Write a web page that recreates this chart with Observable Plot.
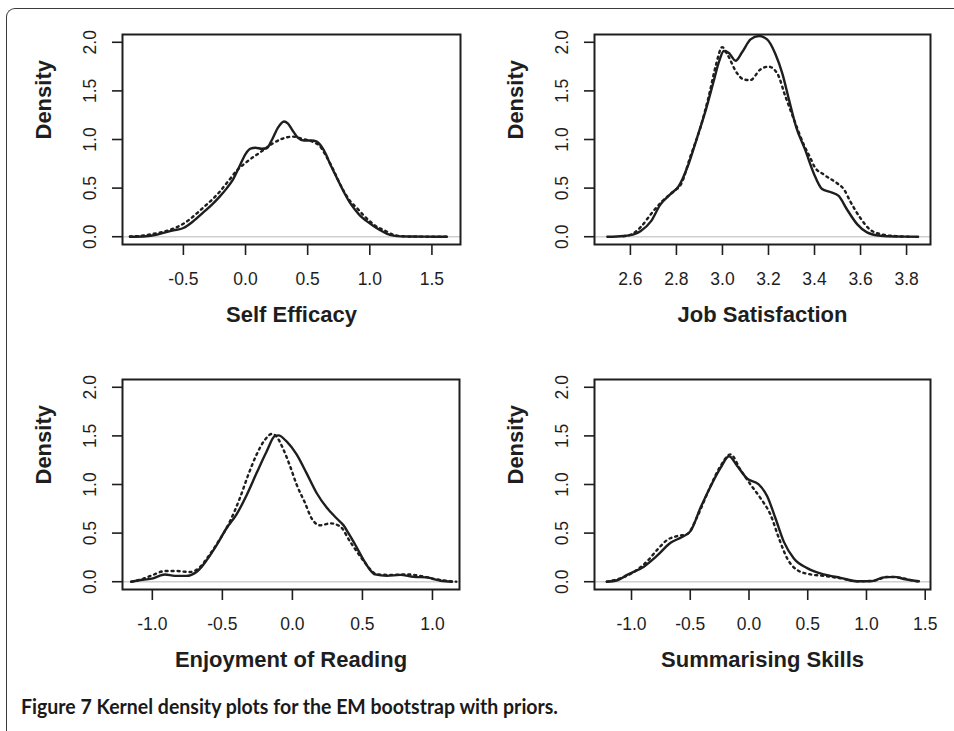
<!DOCTYPE html>
<html>
<head>
<meta charset="utf-8">
<script src="https://cdn.jsdelivr.net/npm/d3@7"></script>
<script src="https://cdn.jsdelivr.net/npm/@observablehq/plot@0.6"></script>
<style>
  html, body { margin: 0; padding: 0; background: #fff; }
  #fig { position: relative; width: 954px; height: 731px; overflow: hidden; background: #fff; }
  #border { position: absolute; left: 6px; top: 8px; width: 980px; height: 760px;
            border-top: 1.5px solid #3a3a3a; border-left: 1.5px solid #3a3a3a; border-top-left-radius: 9px; }
  .panel { position: absolute; }
  #caption { position: absolute; left: 21px; top: 694px; white-space: nowrap;
             font-family: "Liberation Sans Narrow", "Lato", "Open Sans", sans-serif; font-weight: bold;
             font-size: 20px; color: #1a1a1a; transform-origin: 0 0; }
</style>
</head>
<body>
<div id="fig">
  <div id="border"></div>
  <div id="p1" class="panel" style="left:0px;top:0px"></div>
  <div id="p2" class="panel" style="left:477px;top:0px"></div>
  <div id="p3" class="panel" style="left:0px;top:340px"></div>
  <div id="p4" class="panel" style="left:477px;top:340px"></div>
  <div id="caption">Figure 7 Kernel density plots for the EM bootstrap with priors.</div>
</div>
<script>
// ---- Data (x, density) ----
const yTicks = [0, 0.5, 1.0, 1.5, 2.0];
const yLabel = "Density";

const selfEfficacyTitle = "Self Efficacy";
const selfEfficacyTicks = [-0.5, 0, 0.5, 1.0, 1.5];
const selfEfficacySolid = [[-0.93,0],[-0.8,0.005],[-0.72,0.02],[-0.66,0.04],[-0.58,0.065],[-0.5,0.09],[-0.42,0.16],[-0.34,0.25],[-0.27,0.33],[-0.21,0.41],[-0.15,0.5],[-0.10,0.59],[-0.05,0.72],[0.0,0.85],[0.04,0.905],[0.08,0.915],[0.13,0.905],[0.17,0.91],[0.21,0.99],[0.26,1.12],[0.31,1.185],[0.34,1.165],[0.38,1.09],[0.42,1.02],[0.47,0.99],[0.53,0.99],[0.57,0.98],[0.61,0.93],[0.65,0.84],[0.68,0.75],[0.72,0.645],[0.76,0.54],[0.80,0.44],[0.84,0.35],[0.88,0.28],[0.92,0.22],[0.97,0.165],[1.03,0.11],[1.08,0.07],[1.14,0.03],[1.19,0.012],[1.25,0.004],[1.35,0.002],[1.45,0.001],[1.62,0]];
const selfEfficacyDotted = [[-0.93,0.003],[-0.82,0.012],[-0.74,0.03],[-0.61,0.07],[-0.48,0.15],[-0.41,0.22],[-0.34,0.30],[-0.27,0.38],[-0.21,0.46],[-0.14,0.57],[-0.07,0.68],[0.02,0.78],[0.12,0.87],[0.22,0.96],[0.30,1.01],[0.38,1.03],[0.45,1.01],[0.55,0.97],[0.60,0.93],[0.63,0.87],[0.67,0.78],[0.71,0.68],[0.75,0.57],[0.79,0.47],[0.84,0.37],[0.90,0.29],[0.95,0.22],[1.0,0.16],[1.06,0.10],[1.11,0.07],[1.19,0.02],[1.26,0.005],[1.33,0.001],[1.62,0]];

const jobSatisfactionTitle = "Job Satisfaction";
const jobSatisfactionTicks = [2.6, 2.8, 3.0, 3.2, 3.4, 3.6, 3.8];
const jobSatisfactionSolid = [[2.50,0],[2.57,0.008],[2.62,0.03],[2.645,0.06],[2.69,0.16],[2.73,0.33],[2.775,0.44],[2.81,0.52],[2.85,0.73],[2.89,1.02],[2.927,1.30],[2.963,1.61],[2.985,1.80],[3.006,1.91],[3.028,1.89],[3.057,1.81],[3.086,1.90],[3.122,2.03],[3.158,2.065],[3.194,2.03],[3.23,1.88],[3.26,1.68],[3.29,1.40],[3.32,1.13],[3.36,0.89],[3.397,0.65],[3.433,0.49],[3.469,0.46],[3.505,0.42],[3.54,0.285],[3.585,0.13],[3.628,0.045],[3.686,0.01],[3.75,0.002],[3.85,0]];
const jobSatisfactionDotted = [[2.57,0.005],[2.61,0.03],[2.645,0.10],[2.695,0.25],[2.74,0.37],[2.79,0.47],[2.82,0.54],[2.86,0.82],[2.905,1.13],[2.94,1.44],[2.97,1.75],[2.999,1.95],[3.02,1.88],[3.064,1.68],[3.09,1.62],[3.12,1.61],[3.165,1.72],[3.20,1.75],[3.238,1.68],[3.274,1.44],[3.31,1.21],[3.353,0.95],[3.38,0.82],[3.40,0.72],[3.44,0.64],[3.498,0.55],[3.527,0.49],[3.556,0.36],[3.60,0.19],[3.643,0.07],[3.70,0.02],[3.76,0.005],[3.82,0]];

const enjoymentTitle = "Enjoyment of Reading";
const enjoymentTicks = [-1.0, -0.5, 0, 0.5, 1.0];
const enjoymentSolid = [[-1.15,0],[-1.067,0.02],[-0.995,0.035],[-0.95,0.06],[-0.91,0.075],[-0.84,0.06],[-0.757,0.06],[-0.685,0.10],[-0.65,0.15],[-0.613,0.22],[-0.54,0.38],[-0.47,0.55],[-0.40,0.69],[-0.327,0.89],[-0.255,1.12],[-0.184,1.34],[-0.124,1.50],[-0.10,1.505],[-0.04,1.44],[0.03,1.31],[0.10,1.12],[0.174,0.91],[0.246,0.76],[0.317,0.65],[0.365,0.58],[0.40,0.50],[0.437,0.41],[0.51,0.22],[0.55,0.13],[0.59,0.075],[0.675,0.06],[0.77,0.07],[0.866,0.05],[0.96,0.045],[1.0,0.03],[1.057,0.01],[1.14,0]];
const enjoymentDotted = [[-1.15,0],[-1.067,0.03],[-0.995,0.07],[-0.91,0.11],[-0.83,0.11],[-0.733,0.10],[-0.66,0.15],[-0.60,0.26],[-0.53,0.41],[-0.446,0.62],[-0.375,0.86],[-0.315,1.10],[-0.255,1.31],[-0.196,1.46],[-0.148,1.52],[-0.112,1.49],[-0.064,1.36],[-0.017,1.19],[0.03,1.00],[0.09,0.81],[0.138,0.65],[0.198,0.58],[0.27,0.60],[0.34,0.57],[0.413,0.41],[0.51,0.21],[0.56,0.12],[0.604,0.075],[0.70,0.07],[0.82,0.075],[0.914,0.06],[1.01,0.03],[1.13,0.005],[1.17,0]];

const summarisingTitle = "Summarising Skills";
const summarisingTicks = [-1.0, -0.5, 0, 0.5, 1.0, 1.5];
const summarisingSolid = [[-1.21,0],[-1.12,0.015],[-1.037,0.07],[-0.895,0.155],[-0.78,0.27],[-0.668,0.40],[-0.57,0.46],[-0.498,0.52],[-0.413,0.76],[-0.327,0.98],[-0.242,1.17],[-0.17,1.29],[-0.10,1.19],[-0.015,1.06],[0.084,1.00],[0.155,0.88],[0.226,0.65],[0.297,0.41],[0.382,0.24],[0.495,0.14],[0.637,0.075],[0.78,0.04],[0.92,0.005],[1.035,0.005],[1.148,0.045],[1.233,0.05],[1.333,0.025],[1.446,0.005]];
const summarisingDotted = [[-1.21,0],[-1.094,0.035],[-0.98,0.10],[-0.867,0.21],[-0.78,0.33],[-0.696,0.43],[-0.61,0.47],[-0.526,0.49],[-0.44,0.67],[-0.34,0.95],[-0.242,1.19],[-0.157,1.31],[-0.072,1.15],[0.013,1.00],[0.098,0.86],[0.183,0.69],[0.254,0.45],[0.325,0.24],[0.41,0.12],[0.524,0.075],[0.637,0.06],[0.78,0.035],[0.92,0.005],[1.063,0.01],[1.177,0.05],[1.29,0.04],[1.403,0.01],[1.45,0]];

// ---- Drawing ----
const fmt = d => d.toFixed(1);
const ink = "#1e1e1e";

function panel({solid, dotted, xDomain, xTicks, title, mL, mR, mT, mB}) {
  return Plot.plot({
    width: 477, height: 340,
    marginLeft: mL, marginRight: mR, marginTop: mT, marginBottom: mB,
    x: {domain: xDomain},
    y: {domain: [-0.08, 2.08]},
    style: {fontFamily: "'Liberation Sans', Arial, sans-serif", fontSize: "17.5px", color: ink, background: "transparent"},
    marks: [
      Plot.ruleY([0], {stroke: "#cfcfcf", strokeWidth: 1.5}),
      Plot.line(dotted, {x: d => d[0], y: d => d[1], curve: "monotone-x", stroke: ink, strokeWidth: 2.4, strokeDasharray: "2,4"}),
      Plot.line(solid, {x: d => d[0], y: d => d[1], curve: "monotone-x", stroke: ink, strokeWidth: 2.4}),
      Plot.frame({stroke: ink, strokeWidth: 2}),
      Plot.axisX(xTicks, {tickSize: 11, tickPadding: 17, tickFormat: fmt, strokeWidth: 1.6}),
      Plot.axisY(yTicks, {tickSize: 10, tickPadding: 17, tickRotate: -90, tickFormat: fmt, strokeWidth: 1.6}),
      Plot.text([title], {text: d => d, frameAnchor: "bottom", dy: 77, fontWeight: "bold", fontSize: 22, fill: ink}),
      Plot.text([yLabel], {text: d => d, frameAnchor: "left", dx: -79, rotate: -90, fontWeight: "bold", fontSize: 22, fill: ink})
    ]
  });
}

document.getElementById("p1").append(panel({solid: selfEfficacySolid, dotted: selfEfficacyDotted, xDomain: [-0.99, 1.73], xTicks: selfEfficacyTicks, title: selfEfficacyTitle, mL: 122, mR: 17, mT: 34, mB: 96}));
document.getElementById("p2").append(panel({solid: jobSatisfactionSolid, dotted: jobSatisfactionDotted, xDomain: [2.444, 3.904], xTicks: jobSatisfactionTicks, title: jobSatisfactionTitle, mL: 117, mR: 24, mT: 34, mB: 96}));
document.getElementById("p3").append(panel({solid: enjoymentSolid, dotted: enjoymentDotted, xDomain: [-1.213, 1.193], xTicks: enjoymentTicks, title: enjoymentTitle, mL: 122, mR: 18, mT: 39, mB: 91}));
document.getElementById("p4").append(panel({solid: summarisingSolid, dotted: summarisingDotted, xDomain: [-1.315, 1.545], xTicks: summarisingTicks, title: summarisingTitle, mL: 117, mR: 24, mT: 39, mB: 91}));

// fit caption to the reference width
const cap = document.getElementById("caption");
const w = cap.getBoundingClientRect().width;
cap.style.transform = `scaleX(${537 / w})`;
</script>
</body>
</html>
